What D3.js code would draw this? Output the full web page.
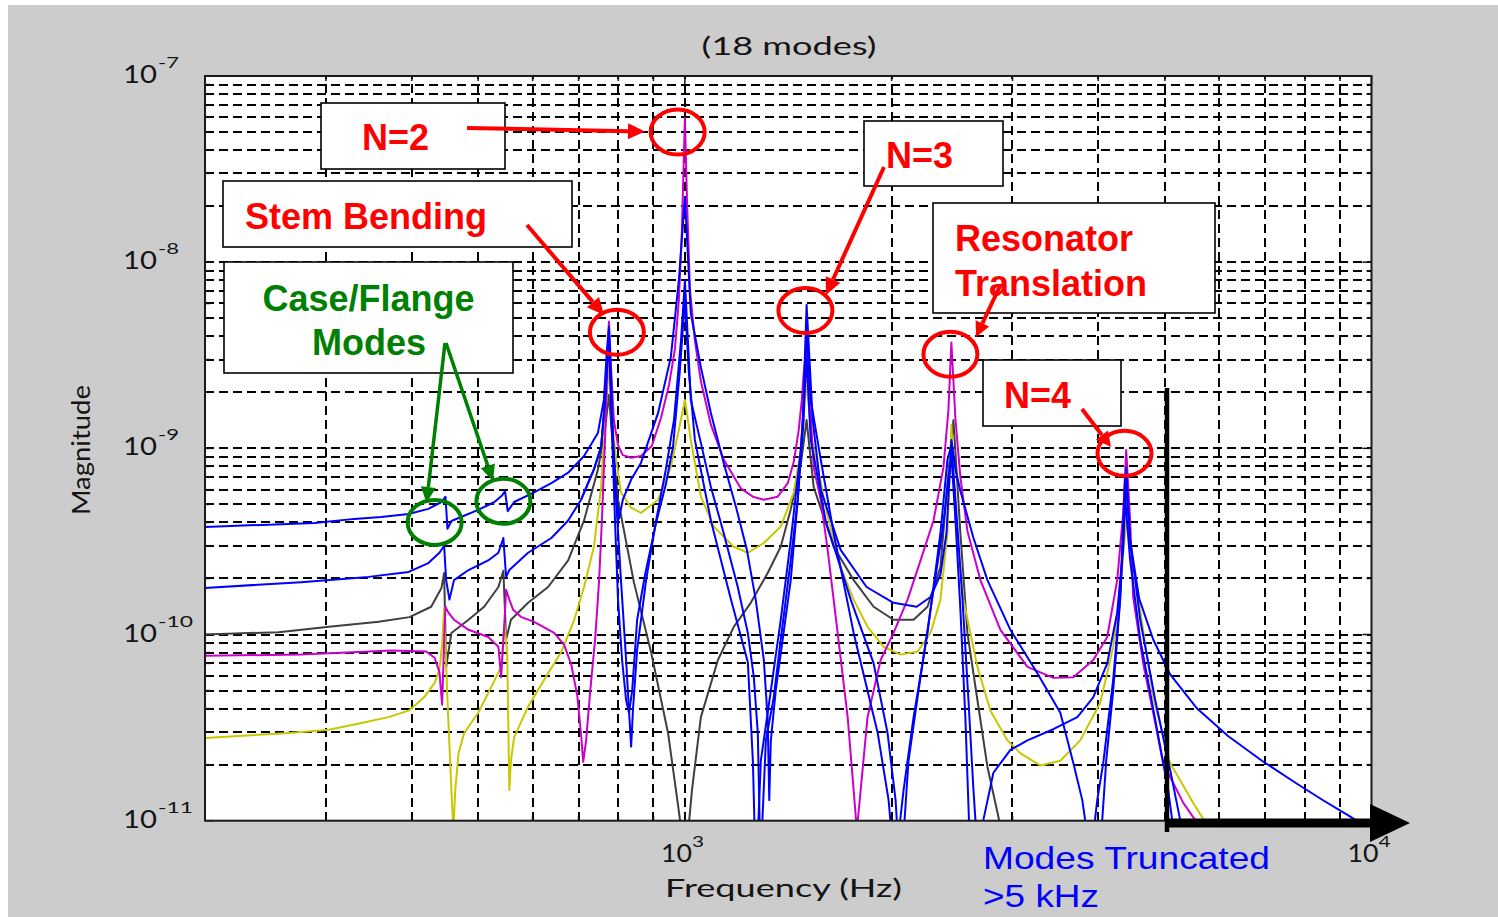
<!DOCTYPE html>
<html>
<head>
<meta charset="utf-8">
<script src="https://cdn.jsdelivr.net/npm/d3@7/dist/d3.min.js"></script>
<style>
  html, body { margin: 0; padding: 0; background: #ffffff; }
  svg { display: block; }
</style>
</head>
<body>
<svg id="chart" width="1498" height="917"></svg>
<script>
// ---------------- data ----------------
const freqRange = [200, 10000];          // Hz
const magRange = [1e-11, 1e-7];
const xDecades = [1e3, 1e4];
const yDecades = [1e-7, 1e-8, 1e-9, 1e-10, 1e-11];

const titleText = "(18 modes)";
const xAxisTitle = "Frequency (Hz)";
const yAxisTitle = "Magnitude";

// frequency response magnitudes: [frequency Hz, magnitude]
const frfMagenta = [[200,7.7e-11],[276,7.8e-11],[374,8.2e-11],[420,8.1e-11],[432,7.5e-11],[439,6.3e-11],[443,4.2e-11],[446,9.35e-11],[448,1.41e-10],[452,1.32e-10],[461,1.2e-10],[484,1.06e-10],[517,9.7e-11],[535,8.6e-11],[540,5.9e-11],[546,1.17e-10],[549,1.74e-10],[555,1.54e-10],[562,1.36e-10],[578,1.24e-10],[603,1.17e-10],[645,1.02e-10],[667,8.8e-11],[683,6.9e-11],[697,4.7e-11],[706,2.9e-11],[711,2.07e-11],[718,2.7e-11],[728,5.0e-11],[740,9.4e-11],[750,1.96e-10],[757,4.1e-10],[765,1.11e-9],[770,2.33e-9],[775,4.8e-9],[781,2.6e-9],[788,1.42e-9],[799,1.04e-9],[812,9.2e-10],[835,8.9e-10],[863,9.1e-10],[895,1.03e-9],[923,1.46e-9],[948,2.19e-9],[967,3.4e-9],[980,6.3e-9],[990,1.49e-8],[997,4.0e-8],[1000,5.95e-8],[1007,2.16e-8],[1017,7.1e-9],[1034,3.8e-9],[1055,2.3e-9],[1091,1.34e-9],[1139,8.7e-10],[1206,6.1e-10],[1256,5.5e-10],[1303,5.3e-10],[1365,5.5e-10],[1412,6.5e-10],[1441,8.5e-10],[1465,1.26e-9],[1480,1.82e-9],[1489,2.5e-9],[1504,3.6e-9],[1520,1.82e-9],[1540,7.9e-10],[1577,5.3e-10],[1614,2.85e-10],[1669,1.02e-10],[1726,3.6e-11],[1761,1.46e-11],[1780,8.9e-12],[1803,1.46e-11],[1845,3.6e-11],[1928,7.3e-11],[2013,1.02e-10],[2110,1.54e-10],[2204,2.5e-10],[2302,4.1e-10],[2380,7.9e-10],[2420,1.61e-9],[2444,3.7e-9],[2478,1.42e-9],[2519,7.0e-10],[2579,3.6e-10],[2694,1.96e-10],[2881,1.06e-10],[3154,6.7e-11],[3440,5.85e-11],[3679,5.9e-11],[3933,7.3e-11],[4122,9.7e-11],[4262,1.96e-10],[4349,4.5e-10],[4393,9.8e-10],[4451,4.1e-10],[4497,1.59e-10],[4650,7.0e-11],[4809,3.8e-11],[4972,2.04e-11],[5317,1.25e-11],[5665,8.9e-12]];

const frfYellow = [[200,2.78e-11],[265,2.96e-11],[303,3.08e-11],[338,3.35e-11],[370,3.6e-11],[396,3.9e-11],[417,4.6e-11],[432,5.5e-11],[439,6.5e-11],[443,8.8e-11],[446,1.39e-10],[451,4.45e-11],[457,1.46e-11],[460,8.9e-12],[463,1.46e-11],[468,2.3e-11],[477,2.96e-11],[500,3.8e-11],[522,5.2e-11],[540,6.7e-11],[546,1.15e-10],[551,8.0e-11],[555,1.46e-11],[558,2.1e-11],[564,2.8e-11],[591,4.1e-11],[632,6.2e-11],[660,8.0e-11],[690,1.2e-10],[713,1.8e-10],[737,2.96e-10],[755,6.2e-10],[765,1.42e-9],[775,2.8e-9],[783,1.42e-9],[794,8.7e-10],[807,5.8e-10],[835,4.8e-10],[863,4.5e-10],[914,5.3e-10],[954,7.9e-10],[980,1.26e-9],[1000,1.82e-9],[1020,1.11e-9],[1055,5.5e-10],[1102,3.8e-10],[1178,2.96e-10],[1235,2.75e-10],[1303,3.1e-10],[1379,3.8e-10],[1441,5.8e-10],[1475,9.8e-10],[1504,2.33e-9],[1530,1.11e-9],[1561,7.9e-10],[1614,4.3e-10],[1686,2.3e-10],[1761,1.54e-10],[1845,1.1e-10],[1947,8.6e-11],[2061,7.8e-11],[2182,8.1e-11],[2279,1.02e-10],[2356,1.54e-10],[2412,3.5e-10],[2444,1.34e-9],[2478,4.1e-10],[2545,1.54e-10],[2667,6.7e-11],[2786,3.9e-11],[2950,2.7e-11],[3081,2.3e-11],[3294,1.98e-11],[3522,2.1e-11],[3765,2.7e-11],[4027,4.3e-11],[4205,8.6e-11],[4305,1.74e-10],[4393,4.1e-10],[4497,2.4e-10],[4650,1.06e-10],[4809,4.6e-11],[5090,2.04e-11],[5498,1.25e-11],[5820,8.9e-12]];

const frfGray = [[200,1.0e-10],[256,1.03e-10],[303,1.1e-10],[358,1.17e-10],[397,1.24e-10],[427,1.41e-10],[442,1.78e-10],[446,2.14e-10],[449,6.7e-11],[457,1.02e-10],[484,1.2e-10],[510,1.41e-10],[535,1.8e-10],[544,2.2e-10],[549,9.4e-11],[558,1.2e-10],[591,1.48e-10],[632,1.8e-10],[676,2.5e-10],[713,4.1e-10],[747,7.7e-10],[765,1.26e-9],[775,1.94e-9],[786,9.8e-10],[799,5.3e-10],[843,1.9e-10],[893,8.0e-11],[945,2.96e-11],[977,1.22e-11],[990,8.4e-12],[1010,8.4e-12],[1024,1.46e-11],[1055,3.6e-11],[1117,7.3e-11],[1178,1.1e-10],[1247,1.48e-10],[1320,2.14e-10],[1379,2.96e-10],[1426,4.7e-10],[1475,8.2e-10],[1504,1.42e-9],[1525,8.7e-10],[1540,6.2e-10],[1647,2.96e-10],[1761,1.96e-10],[1883,1.41e-10],[2013,1.2e-10],[2153,1.2e-10],[2256,1.41e-10],[2356,2.3e-10],[2412,6.5e-10],[2461,1.42e-9],[2519,3.5e-10],[2579,1.02e-10],[2667,4.45e-11],[2758,1.95e-11],[2852,1.11e-11],[2929,7e-12],[3500,5e-12]];

const frfBlueA = [[200,3.78e-10],[242,3.88e-10],[289,3.97e-10],[330,4.18e-10],[361,4.28e-10],[396,4.44e-10],[423,4.73e-10],[442,5.15e-10],[448,5.5e-10],[451,3.7e-10],[457,4.07e-10],[472,4.28e-10],[500,4.67e-10],[528,5.15e-10],[542,5.6e-10],[547,5.9e-10],[552,4.6e-10],[564,5.15e-10],[603,5.8e-10],[639,6.5e-10],[676,7.4e-10],[713,9.1e-10],[747,1.21e-9],[762,1.82e-9],[770,3.4e-9],[775,4.5e-9],[781,2.33e-9],[786,1.11e-9],[794,5.6e-10],[802,4.2e-10],[812,5.3e-10],[835,6.8e-10],[863,8.35e-10],[914,1.55e-9],[954,3.1e-9],[980,8.0e-9],[1000,2.24e-8],[1020,5.3e-9],[1055,2.73e-9],[1091,1.55e-9],[1139,8.35e-10],[1190,4.67e-10],[1231,2.85e-10],[1268,1.54e-10],[1303,7.3e-11],[1320,3.5e-11],[1327,1.29e-11],[1334,2.7e-11],[1356,5.0e-11],[1388,9.4e-11],[1426,1.96e-10],[1460,5.3e-10],[1485,1.42e-9],[1504,5.9e-9],[1535,1.42e-9],[1577,6.0e-10],[1686,2.85e-10],[1839,1.8e-10],[2013,1.48e-10],[2175,1.41e-10],[2279,1.59e-10],[2356,2.1e-10],[2404,3.5e-10],[2428,6.8e-10],[2444,1.11e-9],[2478,7.7e-10],[2519,5.9e-10],[2632,3.3e-10],[2758,1.96e-10],[2979,1.06e-10],[3261,6.2e-11],[3522,3.8e-11],[3679,2.04e-11],[3791,1.29e-11],[3855,8.4e-12],[3933,8.4e-12],[3986,1.29e-11],[4067,2.04e-11],[4205,5.7e-11],[4305,1.59e-10],[4378,7.2e-10],[4451,3.2e-10],[4588,1.56e-10],[4809,9.4e-11],[5090,6.1e-11],[5572,4.0e-11],[6180,2.85e-11],[6925,2.1e-11],[7788,1.58e-11],[8523,1.28e-11],[9237,1.07e-11],[9779,9.4e-12]];

const frfBlueB = [[200,1.78e-10],[276,1.91e-10],[346,2.04e-10],[396,2.17e-10],[423,2.42e-10],[439,2.75e-10],[446,3.0e-10],[449,1.96e-10],[454,1.54e-10],[461,1.96e-10],[484,2.22e-10],[517,2.5e-10],[535,2.75e-10],[544,3.3e-10],[549,2.04e-10],[555,2.22e-10],[591,2.75e-10],[639,3.3e-10],[676,4.1e-10],[706,5.3e-10],[737,7.7e-10],[755,1.02e-9],[765,1.82e-9],[775,4.2e-9],[783,1.42e-9],[794,5.3e-10],[807,1.96e-10],[821,7.3e-11],[829,3.9e-11],[835,2.5e-11],[840,3.9e-11],[852,8.3e-11],[878,1.96e-10],[908,4.1e-10],[938,7.7e-10],[964,1.42e-9],[987,3.8e-9],[1000,8.0e-9],[1020,1.82e-9],[1055,1.07e-9],[1091,6.2e-10],[1139,3.5e-10],[1194,1.8e-10],[1235,1.02e-10],[1260,5.9e-11],[1277,2.96e-11],[1286,8.4e-12],[1294,8.4e-12],[1312,2.7e-11],[1347,4.6e-11],[1379,9.4e-11],[1426,2.5e-10],[1460,5.3e-10],[1489,1.42e-9],[1504,4.3e-9],[1525,1.82e-9],[1577,8.7e-10],[1647,3.5e-10],[1761,1.02e-10],[1909,2.96e-11],[1980,1.29e-11],[2000,8.4e-12],[2047,8.4e-12],[2082,1.46e-11],[2153,3.6e-11],[2256,1.02e-10],[2356,3.5e-10],[2412,8.7e-10],[2444,1.04e-9],[2478,5.3e-10],[2537,1.54e-10],[2588,4.45e-11],[2632,1.46e-11],[2658,8.4e-12],[2703,8.4e-12],[2721,1.01e-11],[2814,1.81e-11],[2979,2.4e-11],[3154,2.7e-11],[3440,3.1e-11],[3729,3.6e-11],[3933,4.6e-11],[4122,7.0e-11],[4262,1.31e-10],[4349,2.96e-10],[4393,7.85e-10],[4451,3.2e-10],[4604,1.2e-10],[4841,4.45e-11],[5090,1.88e-11],[5264,1.01e-11],[5335,7.9e-12]];

const frfBlueC = [[706,5.3e-10],[737,7.7e-10],[755,1.02e-9],[765,1.82e-9],[775,3.9e-9],[783,1.26e-9],[791,4.1e-10],[799,1.54e-10],[810,7.3e-11],[821,4.45e-11],[829,3.8e-11],[838,5.0e-11],[852,1.2e-10],[875,2.1e-10],[908,4.0e-10],[938,6.4e-10],[961,1.02e-9],[983,2.6e-9],[1000,6.3e-9],[1013,2.6e-9],[1034,1.11e-9],[1091,4.1e-10],[1166,1.56e-10],[1235,7.1e-11],[1256,2.1e-11],[1264,8.4e-12],[1277,8.4e-12],[1290,2.1e-11],[1334,5.0e-11],[1379,1.2e-10],[1426,3.2e-10],[1475,9.8e-10],[1504,3.0e-9],[1525,1.11e-9],[1603,4.1e-10],[1744,1.54e-10],[1883,7.0e-11],[1973,2.96e-11],[2027,1.29e-11],[2041,8.4e-12],[2082,8.4e-12],[2117,2.1e-11],[2189,5.0e-11],[2279,1.36e-10],[2372,3.6e-10],[2420,6.8e-10],[2444,9.2e-10],[2478,4.1e-10],[2519,1.36e-10],[2562,3.5e-11],[2597,8.4e-12],[3185,3.7e-12],[3960,3.7e-12],[4040,8.4e-12],[4108,2.1e-11],[4205,5.0e-11],[4305,1.54e-10],[4378,5.3e-10],[4451,2.5e-10],[4604,9.4e-11],[4841,3.5e-11],[5057,1.46e-11],[5159,8.4e-12]];

// peaks that are called out: [frequency Hz, magnitude]
const redMarks = [[976,5.0e-8],[796,4.2e-9],[1498,5.5e-9],[2436,3.2e-9],[4368,9.4e-10]];
const greenMarks = [[432,4.0e-10],[544,5.2e-10]];

// ---------------- layout ----------------
const W = 1498, H = 917;
const plot = { left: 205, right: 1371.5, top: 76, bottom: 820.7 };
const fontAxis = "Lato, 'Liberation Sans', Arial, sans-serif";
const fontNote = "'Liberation Sans', Arial, sans-serif";

const svg = d3.select("#chart");
const x = d3.scaleLog().domain(freqRange).range([plot.left, plot.right]);
const y = d3.scaleLog().domain(magRange).range([plot.bottom, plot.top]);

// figure background
svg.append("rect").attr("width", W).attr("height", H).attr("fill", "#ffffff");
svg.append("rect").attr("x", 8).attr("y", 5).attr("width", W - 8).attr("height", H - 5).attr("fill", "#cccccc");
svg.append("rect")
  .attr("x", plot.left).attr("y", plot.top)
  .attr("width", plot.right - plot.left).attr("height", plot.bottom - plot.top)
  .attr("fill", "#ffffff");

// dashed grid at every tick
const eps = 1e-6;
const xGrid = x.ticks().filter(v => v > freqRange[0] * (1 + eps) && v < freqRange[1] * (1 - eps));
const yGrid = y.ticks().filter(v => v > magRange[0] * (1 + eps) && v < magRange[1] * (1 - eps));
const grid = svg.append("g")
  .attr("stroke", "#000").attr("stroke-width", 2).attr("stroke-dasharray", "9,5")
  .attr("shape-rendering", "crispEdges").attr("fill", "none");
grid.selectAll("line.gx").data(xGrid).join("line").attr("class", "gx")
  .attr("x1", d => Math.round(x(d))).attr("x2", d => Math.round(x(d))).attr("y1", plot.bottom).attr("y2", plot.top);
grid.selectAll("line.gy").data(yGrid).join("line").attr("class", "gy")
  .attr("x1", plot.left).attr("x2", plot.right).attr("y1", d => Math.round(y(d))).attr("y2", d => Math.round(y(d)));

// inward tick marks on all four sides
const isDecade = v => Math.abs(Math.log10(v) - Math.round(Math.log10(v))) < 1e-6;
const ticks = svg.append("g").attr("stroke", "#111").attr("stroke-width", 1.5);
x.ticks().forEach(v => {
  const len = isDecade(v) ? 9 : 5, px = x(v);
  ticks.append("line").attr("x1", px).attr("x2", px).attr("y1", plot.bottom).attr("y2", plot.bottom - len);
  ticks.append("line").attr("x1", px).attr("x2", px).attr("y1", plot.top).attr("y2", plot.top + len);
});
y.ticks().forEach(v => {
  const len = isDecade(v) ? 9 : 5, py = y(v);
  ticks.append("line").attr("x1", plot.left).attr("x2", plot.left + len).attr("y1", py).attr("y2", py);
  ticks.append("line").attr("x1", plot.right).attr("x2", plot.right - len).attr("y1", py).attr("y2", py);
});

// response curves
svg.append("clipPath").attr("id", "plotClip").append("rect")
  .attr("x", plot.left).attr("y", plot.top)
  .attr("width", plot.right - plot.left).attr("height", plot.bottom - plot.top);
const line = d3.line().x(d => x(d[0])).y(d => y(d[1]));
const series = [
  { data: frfGray,    color: "#3f3f3f" },
  { data: frfYellow,  color: "#c8c800" },
  { data: frfMagenta, color: "#cc00cc" },
  { data: frfBlueC,   color: "#0000ff" },
  { data: frfBlueB,   color: "#0000ff" },
  { data: frfBlueA,   color: "#0000ff" }
];
const curves = svg.append("g").attr("clip-path", "url(#plotClip)");
curves.selectAll("path").data(series).join("path")
  .attr("d", d => line(d.data))
  .attr("fill", "none")
  .attr("stroke", d => d.color)
  .attr("stroke-width", 2)
  .attr("stroke-linejoin", "round");

// axes box
svg.append("rect")
  .attr("x", plot.left).attr("y", plot.top)
  .attr("width", plot.right - plot.left).attr("height", plot.bottom - plot.top)
  .attr("fill", "none").attr("stroke", "#1a1a1a").attr("stroke-width", 2);

// stretched axis text
function axisText(str, px, py, size, len, anchor) {
  return svg.append("text")
    .attr("x", px).attr("y", py)
    .attr("font-family", fontAxis).attr("font-size", size)
    .attr("fill", "#141414")
    .attr("text-anchor", anchor || "start")
    .attr("textLength", len).attr("lengthAdjust", "spacingAndGlyphs")
    .text(str);
}

// y tick labels: 10 with superscript exponent
yDecades.forEach(v => {
  const e = Math.round(Math.log10(v)), py = y(v);
  axisText("10", 123, py + 7, 25, 34);
  const exp = String(e);
  axisText(exp, 158, py - 8, 16, exp.length > 2 ? 35 : 21);
});
// x tick labels
xDecades.forEach(v => {
  const e = Math.round(Math.log10(v)), px = x(v);
  axisText("10", px - 24, 862, 25, 31);
  axisText(String(e), px + 7, 847, 16, 12);
});

axisText(titleText, 789, 55, 25, 175, "middle");
axisText(xAxisTitle, 783.5, 897, 25, 237, "middle");
axisText(yAxisTitle, 0, 0, 25, 130, "middle")
  .attr("transform", "translate(90,450) rotate(-90)");

// ---------------- callouts ----------------
const RED = "#ff0000", GREEN = "#008000", BLUE = "#0000ff";

function arrow(x1, y1, x2, y2, color, w, headLen, headW) {
  const a = Math.atan2(y2 - y1, x2 - x1);
  const bx = x2 - headLen * Math.cos(a), by = y2 - headLen * Math.sin(a);
  svg.append("line").attr("x1", x1).attr("y1", y1).attr("x2", bx).attr("y2", by)
    .attr("stroke", color).attr("stroke-width", w);
  const nx = -Math.sin(a) * headW / 2, ny = Math.cos(a) * headW / 2;
  svg.append("polygon")
    .attr("points", [[x2, y2], [bx + nx, by + ny], [bx - nx, by - ny]].map(p => p.join(",")).join(" "))
    .attr("fill", color);
}

const boxes = [
  { r: [321, 103, 184, 66],  color: RED,   lines: [["N=2", 362, 150]] },
  { r: [223, 181, 349, 66],  color: RED,   lines: [["Stem Bending", 245, 228.5]] },
  { r: [224, 262, 289, 111], color: GREEN, lines: [["Case/Flange", 368.5, 311], ["Modes", 369, 355]], anchor: "middle" },
  { r: [864, 121, 139, 65],  color: RED,   lines: [["N=3", 886, 168]] },
  { r: [933, 203, 282, 110], color: RED,   lines: [["Resonator", 955, 251], ["Translation", 955, 296]] },
  { r: [983, 360, 138, 66],  color: RED,   lines: [["N=4", 1004, 408]] }
];
boxes.forEach(b => {
  svg.append("rect").attr("x", b.r[0]).attr("y", b.r[1]).attr("width", b.r[2]).attr("height", b.r[3])
    .attr("fill", "#ffffff").attr("stroke", "#000").attr("stroke-width", 1.6);
  b.lines.forEach(l => {
    svg.append("text").attr("x", l[1]).attr("y", l[2])
      .attr("font-family", fontNote).attr("font-weight", "bold").attr("font-size", 36)
      .attr("text-anchor", b.anchor || "start")
      .attr("fill", b.color).text(l[0]);
  });
});

// pointers
arrow(467, 128, 645, 131.5, RED, 4, 17, 16);
arrow(527, 225, 604, 315, RED, 4, 17, 16);
arrow(884, 167, 826, 295, RED, 4, 17, 16);
arrow(1000, 286, 976, 337, RED, 4, 15, 15);
arrow(1082, 409, 1111, 447, RED, 4, 15, 15);
arrow(445, 343, 426.5, 503, GREEN, 3.5, 16, 15);
arrow(446, 343, 493, 481, GREEN, 3.5, 16, 15);

// rings around the called-out peaks
const rings = svg.append("g").attr("fill", "none").attr("stroke-width", 4);
rings.selectAll("ellipse.r").data(redMarks).join("ellipse").attr("class", "r")
  .attr("cx", d => x(d[0])).attr("cy", d => y(d[1])).attr("rx", 27).attr("ry", 22.5)
  .attr("stroke", RED);
rings.selectAll("ellipse.g").data(greenMarks).join("ellipse").attr("class", "g")
  .attr("cx", d => x(d[0])).attr("cy", d => y(d[1])).attr("rx", 27).attr("ry", 22.5)
  .attr("stroke", GREEN);

// truncation marker: vertical bar and arrow along the frequency axis
svg.append("line").attr("x1", 1167).attr("x2", 1167).attr("y1", 388).attr("y2", 832)
  .attr("stroke", "#000").attr("stroke-width", 4.5);
svg.append("rect").attr("x", 1165).attr("y", 818.5).attr("width", 210).attr("height", 9).attr("fill", "#000");
svg.append("polygon").attr("points", "1370,804 1410,823 1370,842").attr("fill", "#000");

svg.append("text").attr("x", 983).attr("y", 869)
  .attr("font-family", fontNote).attr("font-size", 32).attr("fill", BLUE)
  .attr("textLength", 287).attr("lengthAdjust", "spacingAndGlyphs").text("Modes Truncated");
svg.append("text").attr("x", 983).attr("y", 907)
  .attr("font-family", fontNote).attr("font-size", 32).attr("fill", BLUE)
  .attr("textLength", 116).attr("lengthAdjust", "spacingAndGlyphs").text(">5 kHz");
</script>
</body>
</html>
